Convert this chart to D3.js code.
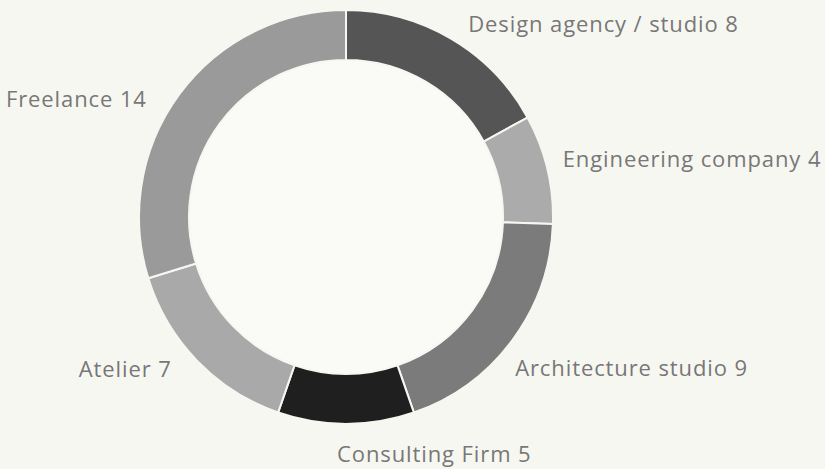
<!DOCTYPE html>
<html>
<head>
<meta charset="utf-8">
<script src="https://cdn.jsdelivr.net/npm/d3@7"></script>
<style>
  html, body { margin: 0; padding: 0; background: #f7f7f2; }
  svg { display: block; }
</style>
</head>
<body>
<svg id="chart" width="825" height="469"></svg>
<script>
const categories = ["Design agency / studio", "Engineering company", "Architecture studio", "Consulting Firm", "Atelier", "Freelance"];
const values = [8, 4, 9, 5, 7, 14];
const colors = ["#555555", "#ababab", "#7b7b7b", "#1f1f1f", "#a9a9a9", "#9a9a9a"];
// label nudges (layout only)
const labelNudgeX = [5, -7, -16, -9, -9, -14];
const labelNudgeY = [13, 3, 23, 15, 0, 26];

const width = 825, height = 469;
const cx = 346, cy = 217;
const outerR = 207, innerR = 157, labelR = 230;

const svg = d3.select("#chart");
svg.append("rect").attr("width", width).attr("height", height).attr("fill", "#f7f7f2");

const g = svg.append("g").attr("transform", `translate(${cx},${cy})`);

g.append("circle").attr("r", innerR).attr("fill", "#fafaf7");

const data = categories.map((c, i) => ({ name: c, value: values[i], color: colors[i], i }));
const pie = d3.pie().value(d => d.value).sort(null);
const arcs = pie(data);
const arc = d3.arc().innerRadius(innerR).outerRadius(outerR);

g.selectAll("path.slice").data(arcs).join("path")
  .attr("class", "slice")
  .attr("d", arc)
  .attr("fill", d => d.data.color)
  .attr("stroke", "#f7f7f2")
  .attr("stroke-width", 2);

g.selectAll("text.lbl").data(arcs).join("text")
  .attr("class", "lbl")
  .each(function(d) {
    const a = (d.startAngle + d.endAngle) / 2;
    const x = labelR * Math.sin(a);
    const y = -labelR * Math.cos(a);
    d3.select(this)
      .attr("x", x + labelNudgeX[d.data.i])
      .attr("y", y + labelNudgeY[d.data.i])
      .attr("text-anchor", x < -1 ? "end" : "start");
  })
  .attr("font-family", "'Open Sans', Roboto, sans-serif")
  .attr("font-size", 22)
  .attr("letter-spacing", 0.9)
  .attr("fill", "#777777")
  .text(d => `${d.data.name} ${d.data.value}`);
</script>
</body>
</html>
